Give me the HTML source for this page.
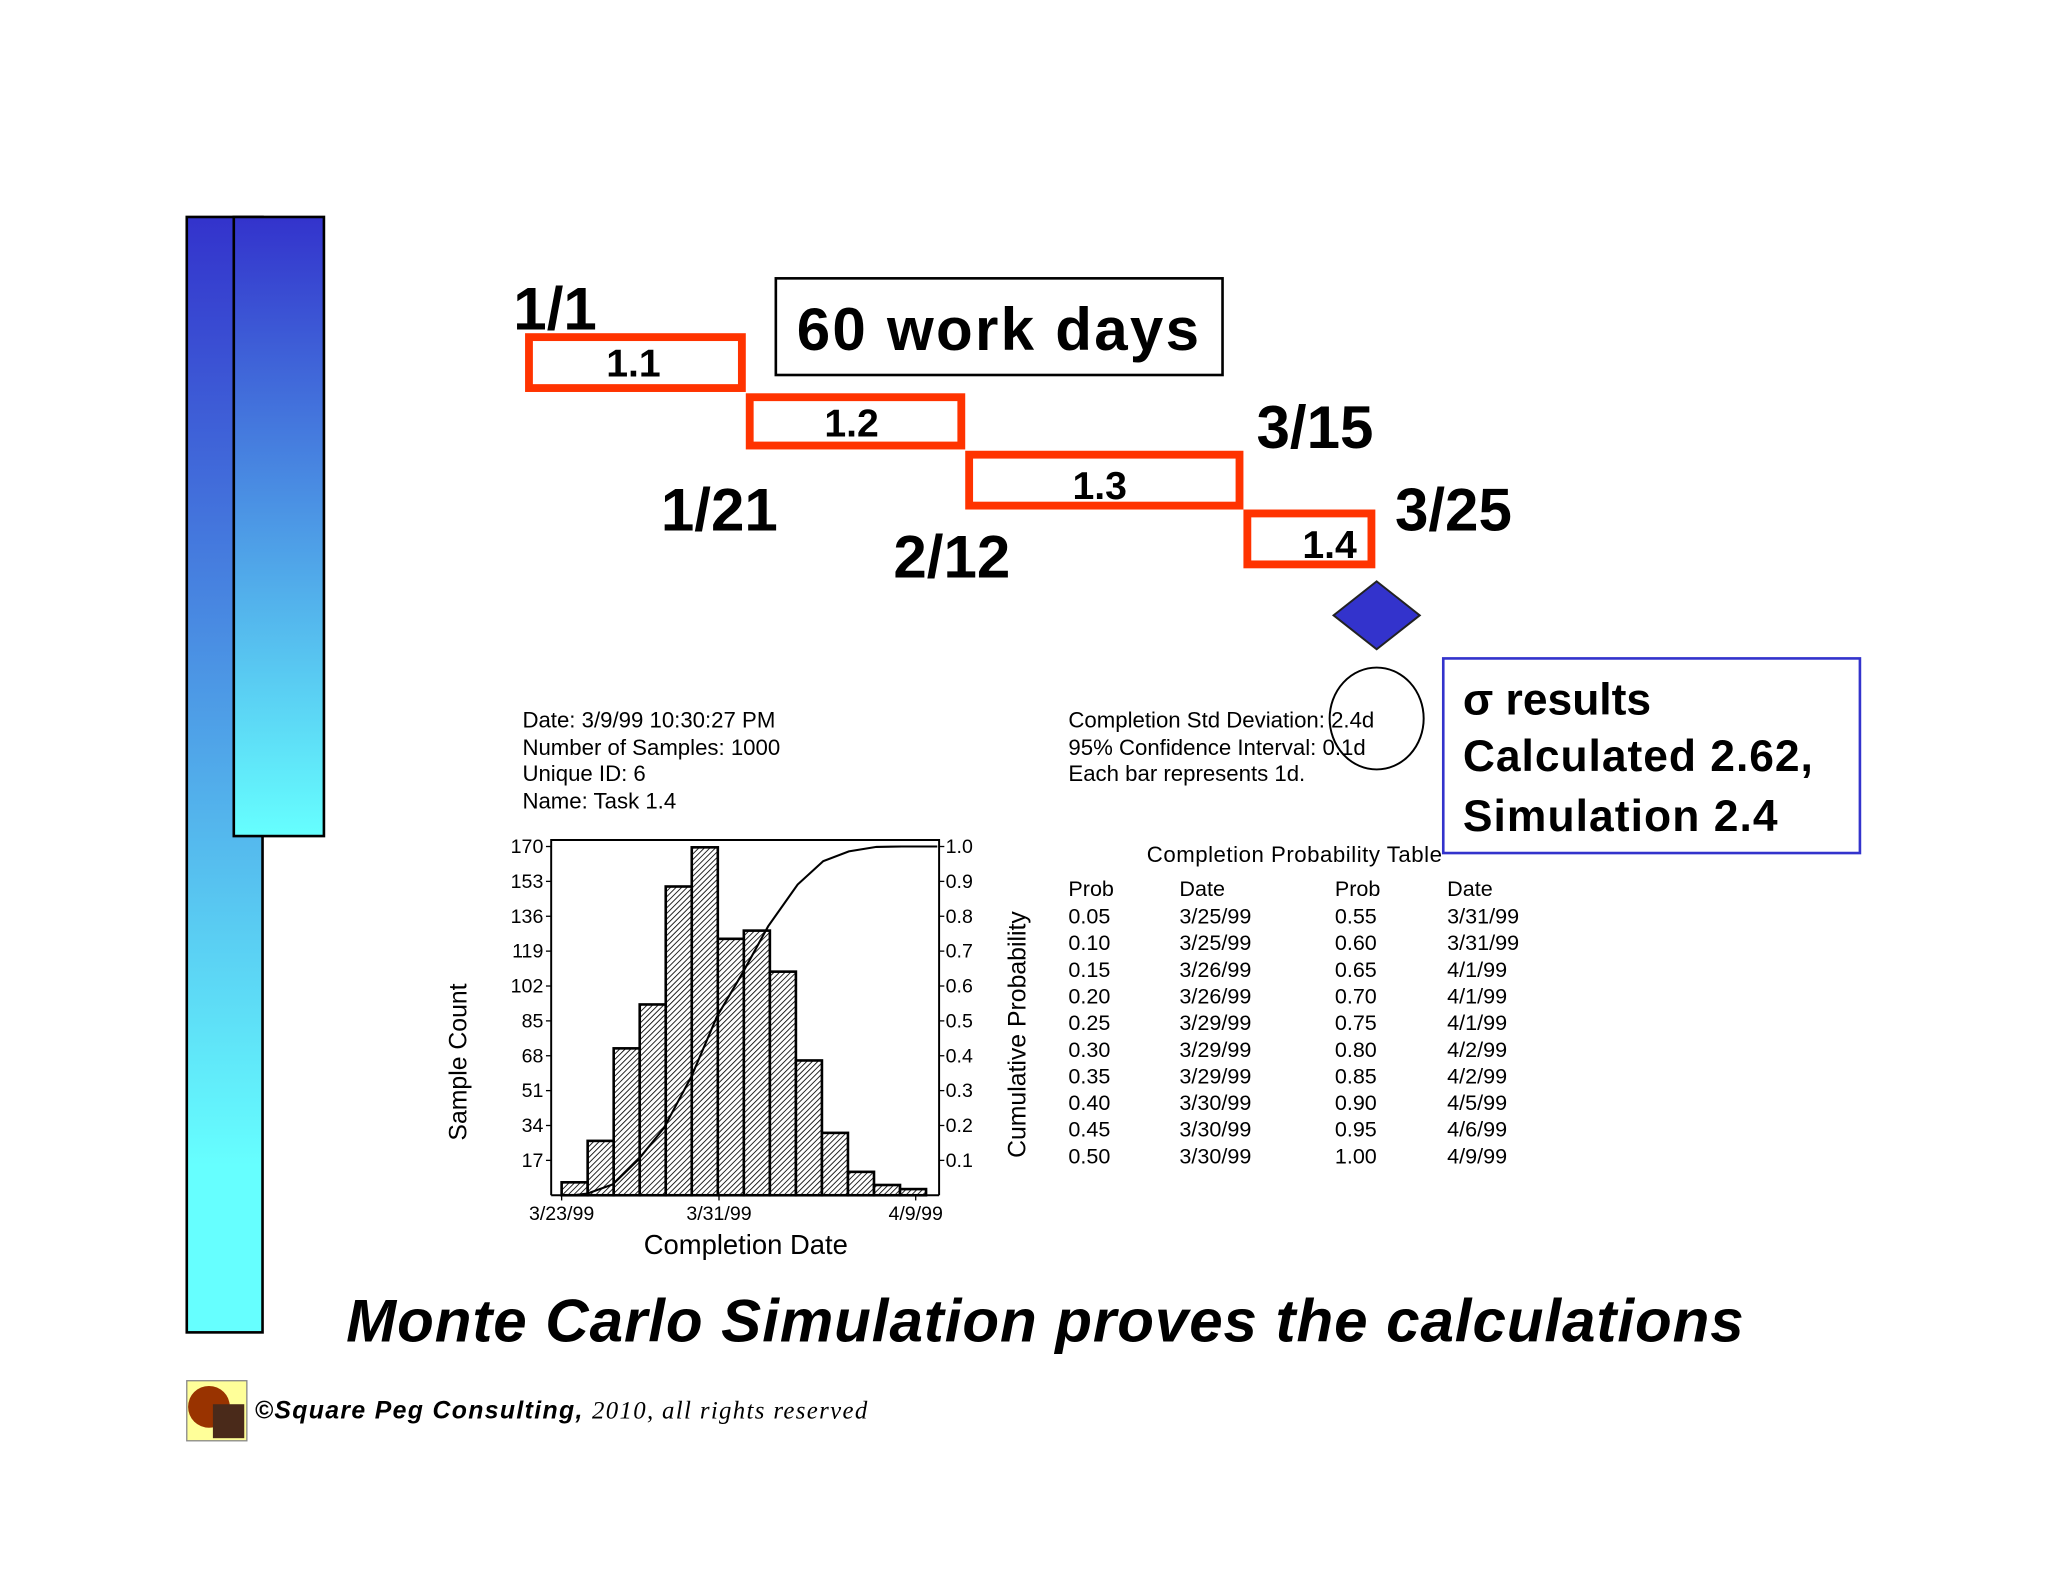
<!DOCTYPE html>
<html><head><meta charset="utf-8"><style>
html,body{margin:0;padding:0;background:#fff}
svg{display:block}
text{font-family:"Liberation Sans",Arial,sans-serif}
</style></head><body>
<svg width="2048" height="1582" viewBox="0 0 1568 1211" xmlns="http://www.w3.org/2000/svg">
<defs>
<linearGradient id="g1" x1="0" y1="0" x2="0" y2="1"><stop offset="0" stop-color="#3333cc"/><stop offset="0.85" stop-color="#66ffff"/><stop offset="1" stop-color="#66ffff"/></linearGradient>
<linearGradient id="g2" x1="0" y1="0" x2="0" y2="1"><stop offset="0" stop-color="#3333cc"/><stop offset="1" stop-color="#66ffff"/></linearGradient>
<pattern id="hatch" width="3" height="3" patternUnits="userSpaceOnUse" patternTransform="rotate(45)"><rect width="3" height="3" fill="#fff"/><line x1="0" y1="0" x2="0" y2="3" stroke="#000" stroke-width="1.3"/></pattern>
</defs>
<rect x="143" y="166" width="58" height="854" fill="url(#g1)" stroke="#000" stroke-width="2"/>
<rect x="179" y="166" width="69" height="474" fill="url(#g2)" stroke="#000" stroke-width="2"/>

<g font-weight="bold">
<text x="393" y="252" font-size="46">1/1</text>
<rect x="405" y="258" width="163" height="39" fill="none" stroke="#ff3300" stroke-width="6"/>
<text x="485" y="288" font-size="30" text-anchor="middle">1.1</text>
<rect x="574" y="304" width="162" height="37" fill="none" stroke="#ff3300" stroke-width="6"/>
<text x="652" y="334" font-size="30" text-anchor="middle">1.2</text>
<rect x="742" y="348" width="207" height="39" fill="none" stroke="#ff3300" stroke-width="6"/>
<text x="842" y="382" font-size="30" text-anchor="middle">1.3</text>
<rect x="955" y="393" width="95" height="39" fill="none" stroke="#ff3300" stroke-width="6"/>
<text x="1018" y="427" font-size="30" text-anchor="middle">1.4</text>
<rect x="594" y="213" width="342" height="74" fill="#fff" stroke="#000" stroke-width="2"/>
<text x="610" y="268" font-size="46" textLength="308">60  work days</text>
<text x="962" y="343" font-size="46">3/15</text>
<text x="506" y="406" font-size="46">1/21</text>
<text x="684" y="442" font-size="46">2/12</text>
<text x="1068" y="406" font-size="46">3/25</text>
</g>
<polygon points="1054,445 1087,471 1054,497 1021,471" fill="#3333cc" stroke="#222" stroke-width="1.5"/>
<ellipse cx="1054" cy="550" rx="36" ry="39" fill="none" stroke="#000" stroke-width="1.5"/>
<rect x="1105" y="504" width="319" height="149" fill="none" stroke="#3333cc" stroke-width="2"/>
<g font-weight="bold" font-size="34">
<text x="1120" y="547">σ results</text>
<text x="1120" y="590" textLength="268">Calculated 2.62,</text>
<text x="1120" y="636" textLength="241">Simulation 2.4</text>
</g>
<g font-size="17">
<text x="400" y="557">Date: 3/9/99 10:30:27 PM</text>
<text x="400" y="578">Number of Samples: 1000</text>
<text x="400" y="598">Unique ID: 6</text>
<text x="400" y="619">Name: Task 1.4</text>
<text x="818" y="557">Completion Std Deviation: 2.4d</text>
<text x="818" y="578">95% Confidence Interval: 0.1d</text>
<text x="818" y="598">Each bar represents 1d.</text>
</g>
<g id="chart"></g>
<g id="table" font-size="16.5">
<text x="878" y="660" font-size="17" textLength="226">Completion Probability Table</text>
</g>
<text x="265" y="1027" font-size="46" font-weight="bold" font-style="italic" textLength="1070">Monte Carlo Simulation proves the calculations</text>
<g>
<rect x="143" y="1057" width="46" height="46" fill="#ffff99" stroke="#888"/>
<circle cx="160" cy="1077" r="16" fill="#993300"/>
<rect x="163" y="1075" width="24" height="26" fill="#4a2a1a"/>
</g>
<text x="195" y="1086" font-size="19" font-weight="bold" font-style="italic" textLength="469">©Square Peg Consulting, <tspan font-family="Liberation Serif,serif" font-weight="normal" font-size="19">2010, all rights reserved</tspan></text>
<script>
const counts=[6.3,26.5,71.6,93,150.5,169.6,125,129,109,65.7,30.4,11.4,5,3];
const cumDays=[1.3,2.6,3.9,5.2,6.6,7.9,9.2,10.5,12.0,13.3,14.6,16.0,17.3,19.1];
const cumProb=[0.005,0.031,0.102,0.193,0.341,0.513,0.638,0.771,0.891,0.958,0.986,0.999,1.0,1.0];
const leftTicks=[17,34,51,68,85,102,119,136,153,170];
const rightTicks=["0.1","0.2","0.3","0.4","0.5","0.6","0.7","0.8","0.9","1.0"];
const xTickDays=[0,8,18];
const xTickLabels=["3/23/99","3/31/99","4/9/99"];
const tableProbA=["0.05","0.10","0.15","0.20","0.25","0.30","0.35","0.40","0.45","0.50"];
const tableDateA=["3/25/99","3/25/99","3/26/99","3/26/99","3/29/99","3/29/99","3/29/99","3/30/99","3/30/99","3/30/99"];
const tableProbB=["0.55","0.60","0.65","0.70","0.75","0.80","0.85","0.90","0.95","1.00"];
const tableDateB=["3/31/99","3/31/99","4/1/99","4/1/99","4/1/99","4/2/99","4/2/99","4/5/99","4/6/99","4/9/99"];

const NS="http://www.w3.org/2000/svg";
function mk(tag,attrs,parent,txt){const e=document.createElementNS(NS,tag);for(const k in attrs)e.setAttribute(k,attrs[k]);if(txt!=null)e.textContent=txt;parent.appendChild(e);return e;}
const L=422,R=719,T=643,B=915;
const yL=v=>B-(v/170)*(B-648);
const yR=p=>B-p*(B-648);
const xD=d=>430+d*15.06;
const g=document.getElementById('chart');
const bw=(709-430)/counts.length;
counts.forEach((c,i)=>{
  const r=mk('rect',{x:430+i*bw,y:yL(c),width:bw,height:B-yL(c),fill:'url(#hatch)',stroke:'#000','stroke-width':2},g);
  
  
});
let d='M'+xD(0.6)+','+yR(0);
cumDays.forEach((x,i)=>{d+=' L'+xD(x).toFixed(1)+','+yR(cumProb[i]).toFixed(1);});
const cl=mk('path',{d:d,fill:'none',stroke:'#000','stroke-width':1.6},g);


const frame=mk('path',{d:`M${L},${B} L${L},${T} L${R},${T} L${R},${B} M${L},${B} L${R},${B}`,fill:'none',stroke:'#000','stroke-width':1.5},g);


leftTicks.forEach(v=>{
  mk('line',{x1:L-4,x2:L,y1:yL(v),y2:yL(v),stroke:'#000'},g);
  const t=mk('text',{x:L-6,y:yL(v)+5,'font-size':15,'text-anchor':'end'},g,String(v));
  
  
});
rightTicks.forEach(v=>{
  mk('line',{x1:R,x2:R+4,y1:yR(+v),y2:yR(+v),stroke:'#000'},g);
  const t=mk('text',{x:R+5,y:yR(+v)+5,'font-size':15},g,v);
  
  
});
xTickDays.forEach((dd,i)=>{
  mk('line',{x1:xD(dd),x2:xD(dd),y1:B,y2:B+4,stroke:'#000'},g);
  const t=mk('text',{x:xD(dd),y:B+19,'font-size':15,'text-anchor':'middle'},g,xTickLabels[i]);
  
  
});
const xt=mk('text',{x:571,y:960,'font-size':21,'text-anchor':'middle'},g,'Completion Date');


const yt=mk('text',{x:0,y:0,'font-size':19,'text-anchor':'middle',transform:'translate(357,813) rotate(-90)'},g,'Sample Count');


const yt2=mk('text',{x:0,y:0,'font-size':19,'text-anchor':'middle',transform:'translate(785,792) rotate(-90)'},g,'Cumulative Probability');



const tb=document.getElementById('table');
[["Prob",818],["Date",903],["Prob",1022],["Date",1108]].forEach(h=>{
  const t=mk('text',{x:h[1],y:686},tb,h[0]);
  
  
});
const cols=[[tableProbA,818],[tableDateA,903],[tableProbB,1022],[tableDateB,1108]];
for(let i=0;i<10;i++){
  cols.forEach(c=>{
    const t=mk('text',{x:c[1],y:707+i*20.4},tb,c[0][i]);
    
    
  });
}
</script>
</svg>
</body></html>
